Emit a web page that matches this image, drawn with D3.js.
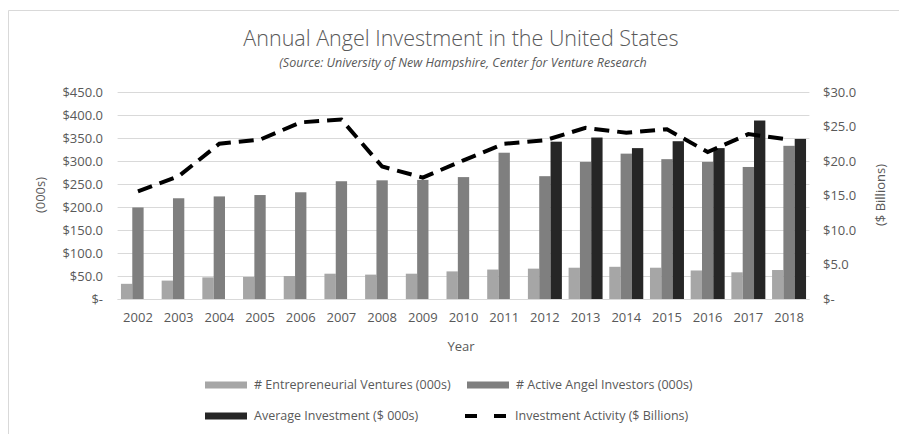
<!DOCTYPE html>
<html>
<head>
  <title>Annual Angel Investment in the United States</title>
  <style>
    body {
      margin: 0;
      background: #fff;
    }

    #chart {
      width: 899px;
      height: 434px;
    }

    text {
      font-family: 'Open Sans', sans-serif;
      fill: #595959;
    }

    .tick line {
      display: none;
    }

    .domain {
      display: none;
    }
  </style>
</head>
<body>
  <div id="chart"></div>

  <script src="https://d3js.org/d3.v7.min.js"></script>
  <script>
    // Data
    const years = ["2002", "2003", "2004", "2005", "2006", "2007", "2008", "2009", "2010",
                   "2011", "2012", "2013", "2014", "2015", "2016", "2017", "2018"];
    const ventures = [33, 40, 47, 48, 50, 55, 53, 55, 60, 64, 66, 68, 70, 68, 62, 58, 63];
    const investors = [199, 219, 223, 226, 232, 256, 258, 259, 265, 318, 267, 298, 316, 304, 298, 287, 333];
    const avgInvestment = [null, null, null, null, null, null, null, null, null, null,
                           342, 351, 328, 343, 328, 388, 348];
    const activity = [15.6, 17.8, 22.5, 23.1, 25.6, 26.0, 19.2, 17.6, 20.1, 22.5,
                      23.0, 24.8, 24.1, 24.6, 21.3, 23.9, 23.1];
    const leftTicks = [0, 50, 100, 150, 200, 250, 300, 350, 400, 450];
    const rightTicks = [0, 5, 10, 15, 20, 25, 30];

    const seriesNames = ["# Entrepreneurial Ventures (000s)", "# Active Angel Investors (000s)",
                         "Average Investment ($ 000s)", "Investment Activity ($ Billions)"];
    const barColors = ["#a6a6a6", "#7f7f7f", "#262626"];

    const barData = years.map((y, i) => ({
      year: y,
      values: [ventures[i], investors[i], avgInvestment[i]]
    }));

    const svg = d3.select("#chart")
      .append("svg")
      .attr("width", 899)
      .attr("height", 434);

    // Chart frame (only top and left edges visible)
    svg.append("line")
      .attr("x1", 8.5).attr("x2", 899).attr("y1", 10.5).attr("y2", 10.5)
      .attr("stroke", "#d9d9d9");
    svg.append("line")
      .attr("x1", 8.5).attr("x2", 8.5).attr("y1", 10.5).attr("y2", 434)
      .attr("stroke", "#d9d9d9");

    // Scales
    const x = d3.scaleBand()
      .domain(years)
      .range([117.6, 809.4])
      .paddingInner(0.165)
      .paddingOuter(0.0825);

    const xSub = d3.scaleBand()
      .domain([0, 1, 2])
      .range([0, x.bandwidth()]);

    const yLeft = d3.scaleLinear()
      .domain([0, 450])
      .range([299, 92]);

    const yRight = d3.scaleLinear()
      .domain([0, 30])
      .range([299, 92]);

    // Gridlines
    svg.append("g")
      .selectAll("line")
      .data(leftTicks)
      .enter()
      .append("line")
      .attr("x1", 117.6)
      .attr("x2", 809.4)
      .attr("y1", d => Math.round(yLeft(d)) + 0.5)
      .attr("y2", d => Math.round(yLeft(d)) + 0.5)
      .attr("stroke", "#d9d9d9");

    const fmt = d => d === 0 ? "$-" : "$" + d3.format(".1f")(d);

    // Left axis
    svg.append("g")
      .attr("transform", "translate(103, 0)")
      .call(d3.axisLeft(yLeft).tickValues(leftTicks).tickFormat(fmt).tickSize(0).tickPadding(0))
      .selectAll("text")
      .style("font-size", "13px")
      .attr("fill", "#595959");

    // Right axis
    svg.append("g")
      .attr("transform", "translate(823, 0)")
      .call(d3.axisRight(yRight).tickValues(rightTicks).tickFormat(fmt).tickSize(0).tickPadding(0))
      .selectAll("text")
      .style("font-size", "13px")
      .attr("fill", "#595959");

    // Bars
    const groups = svg.append("g")
      .selectAll("g")
      .data(barData)
      .enter()
      .append("g")
      .attr("transform", d => `translate(${x(d.year)}, 0)`);

    groups.selectAll("rect")
      .data(d => d.values.map((v, k) => ({ k, v })).filter(e => e.v !== null))
      .enter()
      .append("rect")
      .attr("x", d => xSub(d.k))
      .attr("width", xSub.bandwidth())
      .attr("y", d => yLeft(d.v))
      .attr("height", d => yLeft(0) - yLeft(d.v))
      .attr("fill", d => barColors[d.k]);

    // Baseline
    svg.append("line")
      .attr("x1", 117.6).attr("x2", 809.4)
      .attr("y1", 299.5).attr("y2", 299.5)
      .attr("stroke", "#d9d9d9");

    // X axis labels
    svg.append("g")
      .attr("transform", "translate(0, 313)")
      .call(d3.axisBottom(x).tickSize(0).tickPadding(0))
      .selectAll("text")
      .style("font-size", "13px")
      .attr("fill", "#595959");

    // Investment activity line
    const line = d3.line()
      .x((d, i) => x(years[i]) + x.bandwidth() / 2)
      .y(d => yRight(d));

    svg.append("path")
      .datum(activity)
      .attr("d", line)
      .attr("fill", "none")
      .attr("stroke", "#000")
      .attr("stroke-width", 4)
      .attr("stroke-dasharray", "15,8");

    // Titles
    svg.append("text")
      .attr("x", 461)
      .attr("y", 46)
      .attr("text-anchor", "middle")
      .style("font-size", "21.5px")
      .style("font-weight", 300)
      .text("Annual Angel Investment in the United States");

    svg.append("text")
      .attr("x", 463)
      .attr("y", 67)
      .attr("text-anchor", "middle")
      .style("font-size", "12.5px")
      .style("font-style", "italic")
      .text("(Source: University of New Hampshire, Center for Venture Research");

    svg.append("text")
      .attr("x", 461)
      .attr("y", 351)
      .attr("text-anchor", "middle")
      .style("font-size", "13px")
      .text("Year");

    svg.append("text")
      .attr("transform", "translate(45, 195) rotate(-90)")
      .attr("text-anchor", "middle")
      .style("font-size", "13px")
      .text("(000s)");

    svg.append("text")
      .attr("transform", "translate(885, 195) rotate(-90)")
      .attr("text-anchor", "middle")
      .style("font-size", "13px")
      .text("($ Billions)");

    // Legend
    const legendItems = [
      { name: seriesNames[0], type: "bar", color: barColors[0], x: 205, y: 385 },
      { name: seriesNames[1], type: "bar", color: barColors[1], x: 467, y: 385 },
      { name: seriesNames[2], type: "bar", color: barColors[2], x: 205, y: 416 },
      { name: seriesNames[3], type: "line", color: "#000", x: 465, y: 416 }
    ];

    const legend = svg.append("g")
      .selectAll("g")
      .data(legendItems)
      .enter()
      .append("g")
      .attr("transform", d => `translate(${d.x}, ${d.y})`);

    legend.filter(d => d.type === "bar")
      .append("rect")
      .attr("x", 0)
      .attr("y", -3.5)
      .attr("width", 42)
      .attr("height", 7)
      .attr("fill", d => d.color);

    legend.filter(d => d.type === "line")
      .append("line")
      .attr("x1", 0)
      .attr("x2", 45)
      .attr("y1", 0)
      .attr("y2", 0)
      .attr("stroke", "#000")
      .attr("stroke-width", 4)
      .attr("stroke-dasharray", "12,17");

    legend.append("text")
      .attr("x", d => d.type === "line" ? 50 : 49)
      .attr("y", 0)
      .attr("dy", "0.35em")
      .style("font-size", "12.5px")
      .text(d => d.name);
  </script>
</body>
</html>
